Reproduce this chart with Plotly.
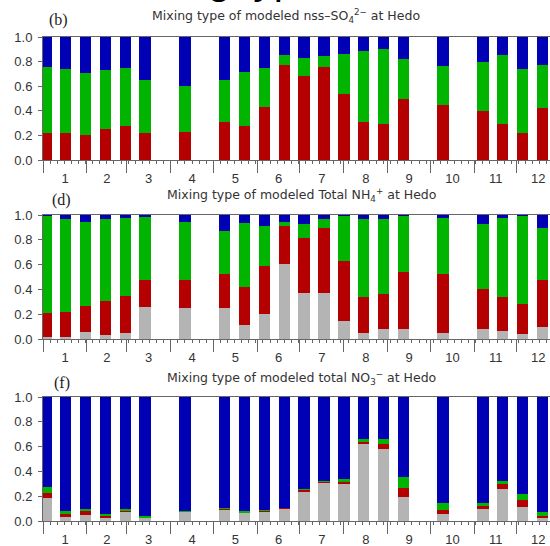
import plotly.graph_objects as go

# Biweekly periods (bar dates) through the year
period_dates = [
    "2001-01-03", "2001-01-17", "2001-01-31", "2001-02-14", "2001-02-28",
    "2001-03-14", "2001-03-28", "2001-04-11", "2001-04-25", "2001-05-09",
    "2001-05-23", "2001-06-06", "2001-06-20", "2001-07-04", "2001-07-18",
    "2001-08-01", "2001-08-15", "2001-08-29", "2001-09-12", "2001-09-26",
    "2001-10-10", "2001-10-24", "2001-11-07", "2001-11-21", "2001-12-05",
    "2001-12-19",
]
N = None

# (b) nss-SO4 2-
b_red = [.216, .216, .203, .251, .276, .216, N, .224, N, .311, .278, .432, .776,
         .681, .757, .535, .311, .289, .492, N, .451, N, .397, .295, .222, .424]
b_green = [.541, .527, .505, .484, .475, .433, N, .379, N, .338, .438, .319, .081,
           .151, .089, .324, .575, .611, .332, N, .311, N, .400, .562, .521, .352]
b_blue = [.243, .257, .292, .265, .249, .351, N, .397, N, .351, .284, .249, .143,
          .168, .154, .141, .114, .100, .176, N, .238, N, .203, .143, .257, .224]

# (d) Total NH4+
d_grey = [.019, .019, .054, .032, .051, .261, N, .247, N, .247, .113, .202, .602,
          .368, .368, .145, .051, .078, .081, N, .046, N, .081, .067, .038, .094]
d_red = [.193, .199, .212, .277, .296, .215, N, .231, N, .275, .309, .389, .312,
         .444, .524, .484, .290, .285, .462, N, .476, N, .320, .274, .242, .382]
d_green = [.783, .747, .675, .656, .626, .505, N, .463, N, .352, .511, .323, .032,
           .113, .073, .363, .627, .602, .449, N, .451, N, .526, .632, .712, .422]
d_blue = [.005, .035, .059, .035, .027, .019, N, .059, N, .126, .067, .086, .054,
          .075, .035, .008, .032, .035, .008, N, .027, N, .073, .027, .008, .102]

# (f) total NO3-
f_grey = [.185, .038, .051, .032, .073, .027, N, .073, N, .091, .065, .073, .099,
          .239, .309, .296, .621, .583, .194, N, .054, N, .099, .261, .113, .027]
f_red = [.041, .016, .030, .014, .013, .005, N, .005, N, .008, .005, .008, .006,
         .014, .008, .021, .016, .038, .072, N, .032, N, .019, .035, .059, .013]
f_green = [.048, .024, .018, .010, .013, .006, N, .005, N, .009, .008, .005, .003,
           .008, .006, .019, .027, .043, .089, N, .056, N, .030, .027, .048, .030]
f_blue = [.726, .922, .901, .944, .901, .962, N, .917, N, .892, .922, .914, .892,
          .739, .677, .664, .336, .336, .645, N, .858, N, .852, .677, .780, .930]

y_ticks = [0, 0.2, 0.4, 0.6, 0.8, 1.0]
y_ticktext = ["0.0", "0.2", "0.4", "0.6", "0.8", "1.0"]

colors = {"grey": "#b4b4b4", "red": "#b40000", "green": "#00b400", "blue": "#0000b4"}

W, H = 550, 546
L = 43
DAY_MS = 86400000

panels = [
    dict(layers=[("red", b_red), ("green", b_green), ("blue", b_blue)],
         top=37, bottom=160, label="(b)",
         title="Mixing type of modeled nss\u2013SO<sub>4</sub><sup>2\u2212</sup> at Hedo",
         title_x=286, title_y=16, label_x=47, label_y=20),
    dict(layers=[("grey", d_grey), ("red", d_red), ("green", d_green), ("blue", d_blue)],
         top=215, bottom=339, label="(d)",
         title="Mixing type of modeled Total NH<sub>4</sub><sup>+</sup> at Hedo",
         title_x=301, title_y=195, label_x=50, label_y=200),
    dict(layers=[("grey", f_grey), ("red", f_red), ("green", f_green), ("blue", f_blue)],
         top=397, bottom=521, label="(f)",
         title="Mixing type of modeled total NO<sub>3</sub><sup>\u2212</sup> at Hedo",
         title_x=301, title_y=378, label_x=52, label_y=383),
]

fig = go.Figure()
axis_color = "#666666"
tick_font = dict(family="Liberation Sans, Arial, sans-serif", size=13, color="#333333")
annotations = []

for i, p in enumerate(panels):
    n = "" if i == 0 else str(i + 1)
    for cname, vals in p["layers"]:
        fig.add_trace(go.Bar(
            x=period_dates, y=vals, xaxis="x" + n, yaxis="y" + n,
            width=8 * DAY_MS, marker=dict(color=colors[cname], line=dict(width=0)),
            showlegend=False, hoverinfo="skip"))
    fig.update_layout(**{
        "xaxis" + n: dict(
            type="date", anchor="y" + n, domain=[0, 1], automargin=False,
            range=["2001-01-01", "2001-12-24 07:00"],
            tickmode="linear", tick0="2001-01-01", dtick="M1",
            ticklabelmode="period", tickformat="%-m",
            ticks="outside", ticklen=12, tickwidth=1, tickcolor=axis_color,
            showline=True, linecolor=axis_color, linewidth=1, mirror=True,
            showgrid=False, zeroline=False, tickfont=tick_font,
            ticklabelstandoff=-6,
            minor=dict(ticks="outside", ticklen=3, tickwidth=1, tickcolor=axis_color,
                       tick0="2001-01-01", dtick=5 * DAY_MS, showgrid=False),
        ),
        "yaxis" + n: dict(
            anchor="x" + n, automargin=False,
            domain=[1 - p["bottom"] / H, 1 - p["top"] / H],
            range=[0, 1], tickmode="array", tickvals=y_ticks, ticktext=y_ticktext,
            ticks="outside", ticklen=4, tickwidth=1, tickcolor=axis_color,
            showline=True, linecolor=axis_color, linewidth=1,
            showgrid=False, zeroline=False, tickfont=tick_font,
            ticklabelstandoff=3,
        ),
    })
    annotations.append(dict(
        xref="paper", yref="paper", x=(p["title_x"] - L) / (W - L), y=1 - p["title_y"] / H,
        xanchor="center", yanchor="middle", text=p["title"], showarrow=False,
        font=dict(family="DejaVu Sans, sans-serif", size=12.5, color="#333333")))
    annotations.append(dict(
        xref="paper", yref="paper", x=(p["label_x"] - L) / (W - L), y=1 - p["label_y"] / H,
        xanchor="left", yanchor="middle", text=p["label"], showarrow=False,
        font=dict(family="Liberation Serif, Times New Roman, serif", size=16, color="#222222")))

# Large heading of the page, mostly above the visible area (only descenders show)
annotations.append(dict(
    xref="paper", yref="paper", x=(110 - L) / (W - L), y=1 - 5 / H,
    xanchor="left", yanchor="bottom", text="Mixing type", showarrow=False,
    font=dict(family="Liberation Sans, Arial, sans-serif", size=41, color="#000000")))

fig.update_layout(
    width=W, height=H, barmode="stack", bargap=0,
    margin=dict(l=L, r=0, t=0, b=0, pad=0, autoexpand=False),
    paper_bgcolor="white", plot_bgcolor="white",
    annotations=annotations,
)

fig.write_html(
    "out.html",
    config={"displayModeBar": False},
    post_script="document.body.style.margin='0';document.body.style.padding='0';"
                "document.body.style.overflow='hidden';",
)
